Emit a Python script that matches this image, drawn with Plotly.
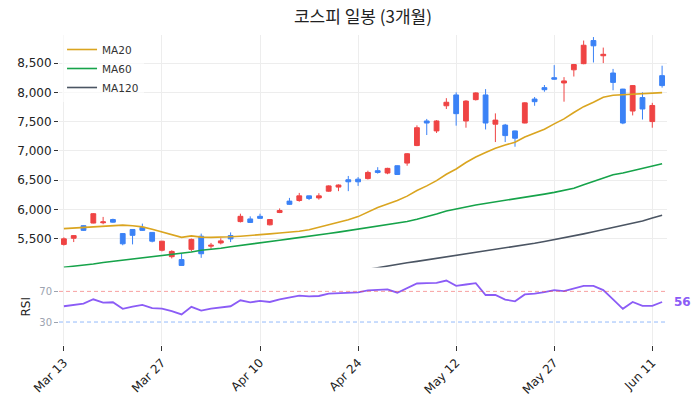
import plotly.graph_objects as go
from plotly.subplots import make_subplots

dates = [
    "Mar 13", "Mar 14", "Mar 17", "Mar 18", "Mar 19", "Mar 20", "Mar 21", "Mar 24", "Mar 25", "Mar 26",
    "Mar 27", "Mar 28", "Mar 31", "Apr 1", "Apr 2", "Apr 3", "Apr 4", "Apr 7", "Apr 8", "Apr 9",
    "Apr 10", "Apr 11", "Apr 14", "Apr 15", "Apr 16", "Apr 17", "Apr 18", "Apr 21", "Apr 22", "Apr 23",
    "Apr 24", "Apr 25", "Apr 28", "Apr 29", "Apr 30", "May 1", "May 2", "May 7", "May 8", "May 9",
    "May 12", "May 13", "May 14", "May 15", "May 16", "May 19", "May 20", "May 21", "May 22", "May 23",
    "May 27", "May 28", "May 29", "May 30", "Jun 2", "Jun 4", "Jun 5", "Jun 6", "Jun 9", "Jun 10",
    "Jun 11", "Jun 12",
]

tick_labels = ["Mar 13", "Mar 27", "Apr 10", "Apr 24", "May 12", "May 27", "Jun 11"]

opens = [5400, 5505, 5720, 5765, 5770, 5825, 5585, 5655, 5690, 5605,
         5300, 5190, 5140, 5315, 5540, 5370, 5425, 5550, 5790, 5835,
         5880, 5735, 5945, 6140, 6150, 6230, 6195, 6310, 6380, 6505,
         6515, 6525, 6660, 6620, 6745, 6790, 7090, 7510, 7340, 7770,
         7955, 7510, 7875, 7955, 7455, 7440, 7340, 7475, 7885, 8080,
         8250, 8160, 8385, 8490, 8885, 8625, 8330, 8055, 7680, 7910,
         7500, 8285]
highs = [5520, 5560, 5725, 5935, 5870, 5840, 5590, 5660, 5755, 5612,
         5460, 5300, 5240, 5500, 5585, 5425, 5505, 5605, 5925, 5880,
         5925, 5830, 6015, 6195, 6280, 6232, 6275, 6410, 6425, 6570,
         6550, 6660, 6720, 6710, 6750, 6960, 7435, 7545, 7525, 7900,
         8000, 7865, 8000, 8055, 7640, 7460, 7345, 7830, 7920, 8125,
         8465, 8260, 8485, 8885, 8945, 8765, 8400, 8060, 8125, 8000,
         7820, 8455]
lows = [5380, 5440, 5630, 5760, 5745, 5770, 5385, 5400, 5630, 5435,
        5280, 5160, 5035, 5280, 5170, 5325, 5400, 5440, 5775, 5770,
        5845, 5725, 5935, 6075, 6130, 6158, 6165, 6300, 6310, 6310,
        6400, 6510, 6610, 6600, 6595, 6745, 7080, 7270, 7305, 7715,
        7430, 7395, 7860, 7365, 7150, 7150, 7070, 7470, 7770, 8010,
        8215, 7840, 8270, 8480, 8510, 8500, 8035, 7455, 7605, 7535,
        7395, 8080]
closes = [5495, 5550, 5640, 5925, 5785, 5780, 5410, 5555, 5640, 5455,
          5455, 5280, 5040, 5485, 5240, 5385, 5460, 5495, 5880, 5775,
          5845, 5825, 5980, 6085, 6230, 6185, 6230, 6400, 6415, 6470,
          6470, 6630, 6630, 6700, 6595, 6950, 7395, 7475, 7510, 7830,
          7635, 7850, 7990, 7475, 7525, 7260, 7215, 7820, 7840, 8045,
          8225, 8195, 8475, 8805, 8795, 8650, 8170, 7475, 8115, 7715,
          7775, 8115]

ma20 = [5670, 5680, 5690, 5705, 5720, 5730, 5730, 5720, 5700, 5660,
        5610, 5560, 5520, 5545, 5525, 5520, 5522, 5530, 5540, 5550,
        5565, 5580, 5595, 5605, 5625, 5650, 5690, 5730, 5770, 5820,
        5875, 5950, 6030, 6090, 6150, 6225, 6320, 6400, 6490, 6600,
        6690, 6800, 6895, 6970, 7045, 7100, 7145, 7235, 7300, 7370,
        7460, 7545, 7655, 7755, 7830, 7915, 7950, 7960, 7965, 7970,
        7980, 7995]
ma60 = [5010, 5025, 5045, 5065, 5090, 5110, 5125, 5145, 5170, 5185,
        5205, 5235, 5250, 5270, 5300, 5315, 5335, 5360, 5380, 5400,
        5420, 5445, 5470, 5495, 5515, 5535, 5560, 5585, 5610, 5635,
        5660, 5685, 5705, 5730, 5755, 5790, 5830, 5870, 5920, 5970,
        6000, 6040, 6075, 6100, 6130, 6150, 6175, 6200, 6230, 6260,
        6290, 6320, 6360, 6420, 6480, 6540, 6590, 6620, 6660, 6700,
        6740, 6780]
ma120 = [None, None, None, None, None, None, None, None, None, None,
         None, None, None, None, None, None, None, None, None, None,
         None, None, None, None, None, None, None, None, None, None,
         4945, 4975, 5003, 5030, 5058, 5085, 5110, 5135, 5160, 5185,
         5210, 5235, 5262, 5288, 5314, 5340, 5365, 5390, 5420, 5450,
         5480, 5510, 5545, 5580, 5615, 5650, 5685, 5720, 5760, 5800,
         5850, 5900]
rsi = [50.6, 52.3, 54.1, 59.7, 55.4, 55.8, 47.2, 50.2, 52.3, 48.1,
       47.6, 44.2, 39.9, 49.8, 45.0, 47.6, 49.4, 50.6, 58.4, 55.8,
       57.5, 56.2, 59.7, 61.9, 64.5, 63.5, 64.0, 67.0, 67.8, 68.7,
       68.7, 71.3, 71.7, 72.6, 68.3, 74.3, 80.3, 80.7, 81.2, 84.2,
       77.3, 79.0, 80.7, 65.3, 65.3, 59.3, 57.1, 66.1, 67.0, 69.1,
       71.7, 70.4, 73.9, 77.3, 77.3, 71.7, 59.7, 47.2, 56.2, 51.0,
       51.0, 56.2]

FONT = "DejaVu Sans, Noto Sans CJK KR, sans-serif"
TITLE_FONT = "Noto Sans CJK KR, DejaVu Sans, sans-serif"
RED = "#EF4444"
BLUE = "#3B82F6"
PURPLE = "#8B5CF6"

fig = make_subplots(rows=2, cols=1, shared_xaxes=True, vertical_spacing=0.005,
                    row_heights=[0.75, 0.25])

fig.add_trace(go.Candlestick(
    x=dates, open=opens, high=highs, low=lows, close=closes,
    increasing=dict(line=dict(color=RED, width=1), fillcolor=RED),
    decreasing=dict(line=dict(color=BLUE, width=1), fillcolor=BLUE),
    showlegend=False, name="KOSPI"), row=1, col=1)

fig.add_trace(go.Scatter(x=dates, y=ma20, mode="lines", name="MA20",
                         line=dict(color="#DAA520", width=1.6)), row=1, col=1)
fig.add_trace(go.Scatter(x=dates, y=ma60, mode="lines", name="MA60",
                         line=dict(color="#16A34A", width=1.6)), row=1, col=1)
fig.add_trace(go.Scatter(x=dates, y=ma120, mode="lines", name="MA120",
                         line=dict(color="#4B5563", width=1.6)), row=1, col=1)

fig.add_trace(go.Scatter(x=dates, y=rsi, mode="lines", name="RSI", showlegend=False,
                         line=dict(color=PURPLE, width=1.8)), row=2, col=1)

fig.add_hline(y=70, line=dict(color="rgba(239,68,68,0.5)", width=1, dash="4px,3px"), row=2, col=1)
fig.add_hline(y=30, line=dict(color="rgba(59,130,246,0.55)", width=1, dash="4px,3px"), row=2, col=1)

fig.add_annotation(x=1, xref="paper", y=rsi[-1], yref="y2", xanchor="left", xshift=5,
                   text="<b>%d</b>" % round(rsi[-1]), showarrow=False,
                   font=dict(color=PURPLE, size=12, family=FONT))

grid = "#EDEDED"
fig.update_layout(
    template="plotly_white",
    width=700, height=411,
    margin=dict(l=59, r=33, t=35, b=66),
    paper_bgcolor="white", plot_bgcolor="white",
    font=dict(family=FONT, size=12, color="#222"),
    title=dict(text="코스피 일봉 (3개월)", x=0.5, xref="paper", xanchor="center",
               y=1 - 17 / 411, yref="container", yanchor="middle",
               font=dict(size=17, color="#222", family=TITLE_FONT)),
    legend=dict(x=0.005, y=1.0, xanchor="left", yanchor="top",
                bgcolor="rgba(255,255,255,0.6)", font=dict(size=10.5, color="#333"),
                tracegroupgap=0),
    showlegend=True,
)

fig.update_xaxes(type="category", range=[-0.5, len(dates) - 0.5], showgrid=True, gridcolor=grid,
                 rangeslider_visible=False, tickmode="array", tickvals=tick_labels,
                 ticktext=tick_labels, zeroline=False)
fig.update_xaxes(showticklabels=False, ticks="", row=1, col=1)
fig.update_xaxes(ticks="outside", ticklen=5, tickcolor="#333", tickangle=-45,
                 tickfont=dict(size=12, color="#222"), row=2, col=1)

fig.update_yaxes(range=[5005, 8980], tickvals=[5500, 6000, 6500, 7000, 7500, 8000, 8500],
                 tickformat=",", ticks="outside", ticklen=4, tickcolor="#333",
                 showgrid=True, gridcolor=grid, zeroline=False,
                 tickfont=dict(size=12, color="#222"), domain=[0.25, 1], row=1, col=1)
fig.update_yaxes(range=[0, 100], tickvals=[30, 70], ticks="outside", ticklen=4,
                 tickcolor="#9CA3AF", showgrid=False, zeroline=False,
                 tickfont=dict(size=10, color="#9CA3AF"),
                 title=dict(text="RSI", font=dict(size=12, color="#222"), standoff=6),
                 domain=[0, 0.247], row=2, col=1)

fig.write_html("out.html")
